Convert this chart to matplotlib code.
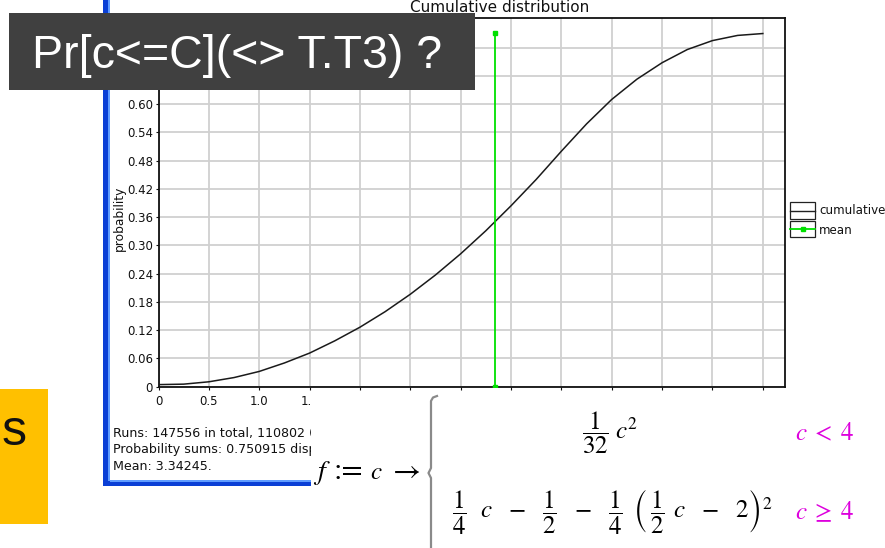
import matplotlib
matplotlib.use("Agg")
import matplotlib.pyplot as plt
from matplotlib.lines import Line2D
from matplotlib.patches import Rectangle

# cumulative probability of the cost bound, sampled every 0.25
c_vals = [0.0, 0.25, 0.5, 0.75, 1.0, 1.25, 1.5, 1.75, 2.0, 2.25, 2.5, 2.75,
          3.0, 3.25, 3.5, 3.75, 4.0, 4.25, 4.5, 4.75, 5.0, 5.25, 5.5, 5.75, 6.0]
cum_prob = [0.004, 0.005, 0.010, 0.019, 0.032, 0.050, 0.071, 0.097, 0.126,
            0.159, 0.196, 0.237, 0.282, 0.331, 0.384, 0.440, 0.500, 0.558,
            0.610, 0.653, 0.688, 0.716, 0.735, 0.746, 0.750]
mean_c = 3.34245
prob_sum = 0.750915

x_ticks = [0, 0.5, 1.0, 1.5, 2.0, 2.5, 3.0, 3.5, 4.0, 4.5, 5.0, 5.5, 6.0]
x_labels = ["0", "0.5", "1.0", "1.5", "2.0", "2.5", "3.0", "3.5", "4.0",
            "4.5", "5.0", "5.5", "6.0"]
y_ticks = [0, 0.06, 0.12, 0.18, 0.24, 0.30, 0.36, 0.42, 0.48, 0.54, 0.60,
           0.66, 0.72]
# the two top labels sit under the question banner
y_labels = ["0", "0.06", "0.12", "0.18", "0.24", "0.30", "0.36", "0.42",
            "0.48", "0.54", "0.60", "", ""]

stats_lines = [
  "Runs: 147556 in total, 110802 (75.0915%) displayed, 36754 (24.9085%) remaining.",
  "Probability sums: 0.750915 displayed, 0.249085 remaining.",
  "Mean: 3.34245.",
]

W, H = 885, 548
plt.rcParams["font.family"] = ["DejaVu Sans"]
plt.rcParams["mathtext.fontset"] = "stix"

fig = plt.figure(figsize=(W / 100, H / 100), dpi=100)
fig.patch.set_facecolor("white")


def px_axes(x0, y0, x1, y1):
  """Axes placed by pixel box, origin at the top-left corner."""
  return fig.add_axes([x0 / W, 1 - y1 / H, (x1 - x0) / W, (y1 - y0) / H])


# --- distribution plot ---
ax = px_axes(158.5, 18, 785, 386.5)
ax.plot(c_vals, cum_prob, color="#1a1a1a", lw=1.1, zorder=3)
ax.plot([mean_c, mean_c], [0, prob_sum], color="#00e000", lw=1.3,
        marker="s", ms=3, zorder=4)
ax.set_xlim(0, 6.22)
ax.set_ylim(0, 0.783)
ax.set_xticks(x_ticks)
ax.set_xticklabels(x_labels)
ax.set_yticks(y_ticks)
ax.set_yticklabels(y_labels)
ax.grid(color="#d0d0d0", lw=1.3)
ax.set_axisbelow(True)
ax.tick_params(length=2, width=0.8, pad=2, labelsize=8.5, colors="#111111")
ax.tick_params(axis="x", pad=4)
for s in ax.spines.values():
  s.set_color("#111111")
  s.set_linewidth(1.3)

# --- overlay in pixel coordinates ---
ov = fig.add_axes([0, 0, 1, 1])
ov.set_xlim(0, W)
ov.set_ylim(H, 0)
ov.axis("off")
ov.patch.set_alpha(0)
ov.set_zorder(5)

ov.text(500, 7, "Cumulative distribution", ha="center", va="center",
        fontsize=11, color="#111111")
ov.text(119, 218, "probability", rotation=90, ha="center", va="center",
        fontsize=8.8, color="#111111")

for i, line in enumerate(stats_lines):
  ov.text(113, 433 + i * 16.5, line, ha="left", va="center", fontsize=9.1,
          color="#111111")

# window border
ov.add_patch(Rectangle((103, 0), 5, 486, color="#0a3fd6", lw=0))
ov.add_patch(Rectangle((108, 0), 2, 482, color="#5f9cff", lw=0))
ov.add_patch(Rectangle((103, 481), 210, 5, color="#0a3fd6", lw=0))
ov.add_patch(Rectangle((110, 480), 203, 1.5, color="#5f9cff", lw=0))

# legend
ov.add_patch(Rectangle((790, 202), 25, 17, fill=False, ec="#222222", lw=0.9))
ov.add_line(Line2D([790, 815], [210.5, 210.5], color="#222222", lw=1.0))
ov.text(819, 211, "cumulative", ha="left", va="center", fontsize=8.6,
        color="#111111")
ov.add_patch(Rectangle((790, 221), 25, 16, fill=False, ec="#222222", lw=0.9))
ov.add_line(Line2D([790, 815], [229, 229], color="#00e000", lw=1.3))
ov.add_line(Line2D([802.5], [229], color="#00e000", marker="s", ms=2.5,
                   lw=0))
ov.text(819, 230, "mean", ha="left", va="center", fontsize=8.6,
        color="#111111")

# formula panel
ov.add_patch(Rectangle((311, 391), W - 311, H - 391, color="white", lw=0,
                       zorder=3))
fz = 18
base = 479
ov.text(313, base, r"$f$", ha="left", va="baseline", fontsize=20, zorder=4)
ov.text(333, base, ":=", ha="left", va="baseline", fontsize=22,
        family="STIXGeneral", zorder=4)
ov.text(370, base, r"$c$", ha="left", va="baseline", fontsize=fz, zorder=4)
ov.text(388, base, r"$\rightarrow$", ha="left", va="baseline",
        fontsize=22, zorder=4)
ov.add_line(Line2D([437, 433, 431, 431, 428.5, 431, 431],
                   [396, 397.5, 401, 468, 473, 478, 550],
                   color="#8a8a8a", lw=1.6, zorder=4))
ov.text(610, 433, r"$\dfrac{1}{32}\;c^{2}$", ha="center", va="center",
        fontsize=fz, zorder=4)
ov.text(612, 512,
        r"$\dfrac{1}{4}\;\;\,c\;\;\,-\;\;\,\dfrac{1}{2}\;\;\,-\;\;\,"
        r"\dfrac{1}{4}\;\;\left(\,\dfrac{1}{2}\;\,c\;\;\,-\;\;\,2\right)^{2}$",
        ha="center", va="center", fontsize=fz, zorder=4)
ov.text(795, 433, r"$c\;<\;4$", ha="left", va="center", fontsize=fz,
        color="#dd00dd", zorder=4)
ov.text(795, 512, r"$c\;\geq\;4$", ha="left", va="center", fontsize=fz,
        color="#dd00dd", zorder=4)

# slide overlays
ov.add_patch(Rectangle((9, 13), 466, 77, color="#404040", lw=0, zorder=6))
ov.text(32, 68, "Pr[c<=C](<> T.T3) ?", ha="left", va="baseline",
        fontsize=33.5, color="white", family="Liberation Sans", zorder=7)
ov.add_patch(Rectangle((0, 389), 48, 135, color="#ffc000", lw=0, zorder=6))
ov.text(2, 445, "s", ha="left", va="baseline", fontsize=36,
        color="#111111", family="Liberation Sans", zorder=7)

fig.savefig("out.png", dpi=100)
